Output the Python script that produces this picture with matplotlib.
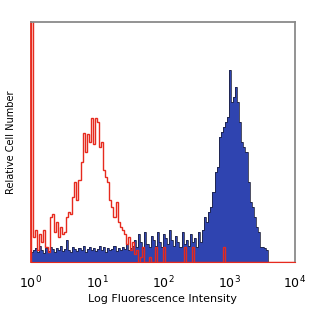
import numpy as np
import matplotlib
matplotlib.use("Agg")
import matplotlib.pyplot as plt

# 128 channels over 4 decades, heights in relative units (0..240 = full axis)
decades = [0, 4]
n_bins = 128

isotype_counts = [300, 25, 32, 12, 28, 20, 32, 15, 10, 45, 48, 30, 40, 25, 35, 28,
                  30, 45, 50, 48, 65, 80, 62, 82, 100, 129, 110, 128, 120, 144, 118, 144,
                  140, 115, 120, 92, 85, 80, 62, 55, 45, 60, 40, 35, 32, 28, 18, 25,
                  12, 20, 8, 12, 0, 5, 15, 0, 0, 5, 0, 0, 15, 0, 0, 0,
                  15, 0, 0, 0, 0, 0, 0, 0, 0, 0, 15, 0, 0, 0, 15, 0,
                  0, 0, 0, 0, 0, 0, 0, 0, 0, 0, 0, 0, 0, 15, 0, 0,
                  0, 0, 0, 0, 0, 0, 0, 0, 0, 0, 0, 0, 0, 0, 0, 0,
                  0, 0, 0, 0, 0, 0, 0, 0, 0, 0, 0, 0, 0, 0, 0, 0]

stained_counts = [10, 12, 14, 10, 16, 12, 9, 14, 11, 15, 13, 10, 14, 12, 16, 11,
                  13, 22, 12, 10, 15, 13, 11, 14, 12, 16, 10, 13, 15, 12, 14, 11,
                  13, 16, 12, 15, 10, 14, 12, 13, 16, 11, 14, 12, 15, 13, 18, 12,
                  14, 16, 22, 15, 28, 20, 14, 30, 18, 15, 26, 22, 16, 30, 20, 15,
                  28, 24, 18, 32, 22, 16, 26, 20, 15, 30, 18, 22, 16, 28, 20, 24,
                  15, 30, 20, 32, 45, 40, 50, 55, 70, 90, 95, 125, 130, 135, 140, 145,
                  192, 160, 165, 175, 160, 140, 120, 115, 110, 80, 60, 55, 45, 35, 30, 15,
                  15, 14, 12, 0, 0, 0, 0, 0, 0, 0, 0, 0, 0, 0, 0, 0]

tick_values = [1, 10, 100, 1000, 10000]
tick_labels = [r'$10^{0}$', r'$10^{1}$', r'$10^{2}$', r'$10^{3}$', r'$10^{4}$']

edges = np.logspace(decades[0], decades[1], n_bins + 1)

fig = plt.figure(figsize=(3.12, 3.12), dpi=100)
ax = fig.add_axes([0.0994, 0.160, 0.846, 0.7695])

ax.stairs(stained_counts, edges, fill=True, color='#2f44b0')
ax.stairs(stained_counts, edges, color='#1c1f3a', lw=0.7, alpha=0.8)
ax.stairs(isotype_counts, edges, color='#e62a1e', lw=1.0)

ax.set_xscale('log')
ax.set_xlim(1, 10000)
ax.set_ylim(0, 240)
ax.set_xticks(tick_values)
ax.set_xticklabels(tick_labels, fontsize=9)
ax.minorticks_off()
ax.set_yticks([])
ax.tick_params(axis='x', length=0, pad=9)

for side in ['top', 'right', 'left']:
    ax.spines[side].set_color('#8a8a8a')
    ax.spines[side].set_linewidth(1.3)
ax.spines['bottom'].set_color('#e62a1e')
ax.spines['left'].set_color('#e62a1e')

ax.set_xlabel('Log Fluorescence Intensity', fontsize=8, labelpad=2)
ax.set_ylabel('Relative Cell Number', fontsize=7, labelpad=11)

fig.savefig('out.png', dpi=100)
